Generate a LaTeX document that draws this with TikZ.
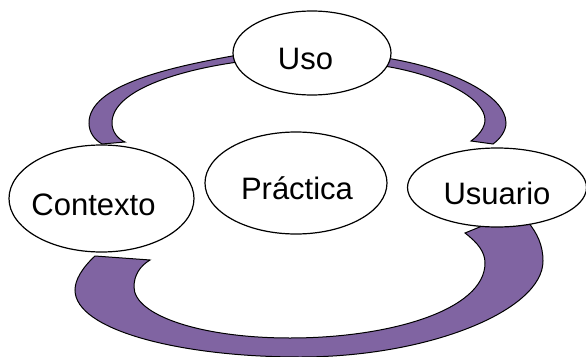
\documentclass[tikz,border=0pt]{standalone}
\usepackage{fontspec}
\setmainfont{Liberation Sans}
\usetikzlibrary{shapes.geometric}
\definecolor{cyclepurple}{RGB}{128,100,162}
\tikzset{
  bubble/.style={ellipse, draw, line width=1.2pt, fill=white, inner sep=0pt},
  word/.style={inner sep=0pt, font=\fontsize{31}{36}\selectfont,
    text height=33pt, text depth=0pt},
  band/.style={fill=cyclepurple, draw=black, line width=1pt}
}

\begin{document}
\begin{tikzpicture}[x=1pt,y=-1pt]
\useasboundingbox (0,0) rectangle (586,356);

% Arcs
\draw[band] (238,55) .. controls (170,67) and (89,85) .. (89,123)
  .. controls (89,133) and (95,140) .. (102,144) -- (125,142)
  .. controls (118,139) and (112,132) .. (112,123)
  .. controls (112,90) and (180,70) .. (238,62) -- cycle;
\draw[band] (386,58) .. controls (450,68) and (506,95) .. (506,123)
  .. controls (506,131) and (500,139) .. (493,144) -- (471,141)
  .. controls (478,136) and (485,128) .. (485,120)
  .. controls (485,98) and (440,75) .. (384,66) -- cycle;
\draw[band] (95,256) .. controls (82,268) and (75,280) .. (75,290)
  .. controls (75,330) and (180,357) .. (300,357)
  .. controls (430,357) and (543,310) .. (543,261)
  .. controls (543,245) and (537,233) .. (528,222) -- (492,222) -- (465,233)
  .. controls (478,243) and (485,252) .. (485,263)
  .. controls (485,310) and (390,338) .. (290,338)
  .. controls (200,338) and (134,315) .. (134,287)
  .. controls (134,275) and (140,266) .. (150,260) -- cycle;

% Bubbles
\node[bubble, minimum width=158pt, minimum height=84pt] (uso) at (312,53) {};
\node[bubble, minimum width=185pt, minimum height=107pt] (contexto) at (101.5,198.5) {};
\node[bubble, minimum width=182pt, minimum height=102pt] (practica) at (296,183) {};
\node[bubble, minimum width=179pt, minimum height=79pt] (usuario) at (497,187.5) {};

% Labels
\node[word] (uso-text) at ([xshift=-6.5pt]uso.center) {Uso};
\node[word] (contexto-text) at ([xshift=-8pt]contexto.center) {Contexto};
\node[word] (practica-text) at ([xshift=1pt]practica.center) {Práctica};
\node[word] (usuario-text) at (usuario.center) {Usuario};

\end{tikzpicture}
\end{document}
